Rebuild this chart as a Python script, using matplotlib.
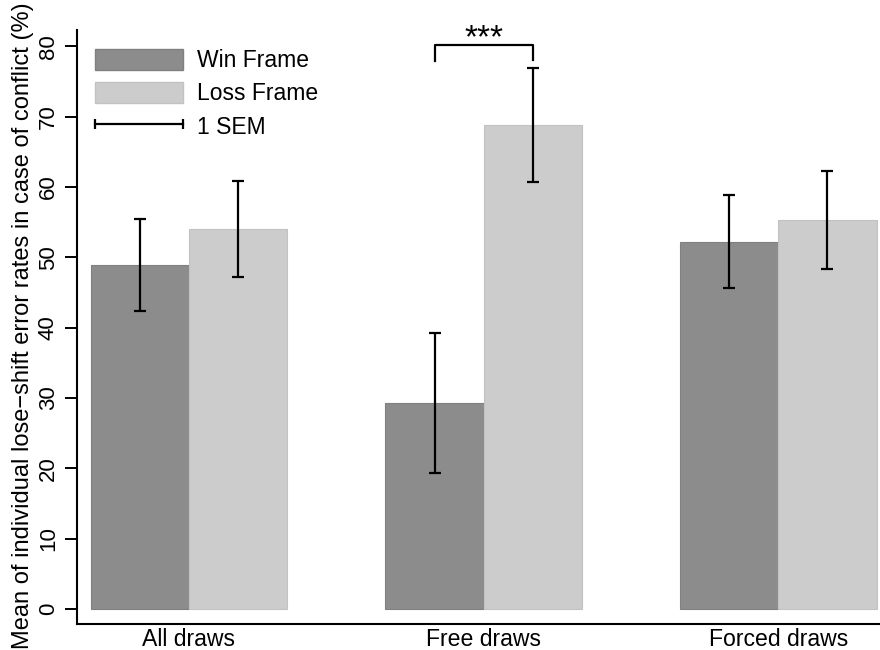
import matplotlib.pyplot as plt
import numpy as np
from matplotlib.patches import Patch
from matplotlib.lines import Line2D
from matplotlib.legend_handler import HandlerLine2D

plt.rcParams['font.family'] = ['Liberation Sans', 'DejaVu Sans']

groups = ['All draws', 'Free draws', 'Forced draws']
win_mean = [48.9, 29.3, 52.2]
win_sem = [6.55, 9.95, 6.6]
loss_mean = [54.0, 68.8, 55.3]
loss_sem = [6.8, 8.15, 7.0]

dark = '#8c8c8c'
light = '#cccccc'

fig = plt.figure(figsize=(8.8, 6.5), dpi=100)
ax = fig.add_axes([77 / 880, 26 / 650, 1 - 77 / 880, (624 - 30) / 650])

x = np.arange(len(groups))
w = 1 / 3
ax.bar(x - w / 2, win_mean, w, color=dark, edgecolor='#808080', linewidth=0.8)
ax.bar(x + w / 2, loss_mean, w, color=light, edgecolor='#c2c2c2', linewidth=0.8)
ax.errorbar(x - w / 2, win_mean, yerr=win_sem, fmt='none', ecolor='black',
            elinewidth=1.6, capsize=4.2, capthick=1.6)
ax.errorbar(x + w / 2, loss_mean, yerr=loss_sem, fmt='none', ecolor='black',
            elinewidth=1.6, capsize=4.2, capthick=1.6)

# significance bracket over free draws
ax.plot([1 - w / 2, 1 - w / 2, 1 + w / 2, 1 + w / 2], [77.9, 80.1, 80.1, 78.0],
        color='black', linewidth=1.6, clip_on=False)
ax.text(1, 78.9, '***', ha='center', va='bottom', fontsize=24)

ax.set_xlim(-0.38, 2.345)
ax.set_ylim(-2.13, 82.3)
ax.set_xticks(x)
ax.set_xticklabels(groups, fontsize=16.6)
ax.set_yticks(range(0, 81, 10))
ax.set_yticklabels([str(v) for v in range(0, 81, 10)], rotation=90, va='center', fontsize=16)
ax.tick_params(axis='x', length=0, pad=3)
ax.tick_params(axis='y', length=9, width=1.4, pad=4)
for s in ['top', 'right']:
    ax.spines[s].set_visible(False)
for s in ['left', 'bottom']:
    ax.spines[s].set_linewidth(1.5)
ax.set_ylabel('Mean of individual lose\u2212shift error rates in case of conflict (%)',
              fontsize=17)
ax.yaxis.set_label_coords(-0.054, 0.503)

sem_handle = Line2D([0, 1], [0, 0], color='black', linewidth=1.6, marker='|',
                    markersize=6.5, markeredgewidth=1.6)
handles = [Patch(facecolor=dark, edgecolor='#808080'),
           Patch(facecolor=light, edgecolor='#c2c2c2'),
           sem_handle]
ax.legend(handles, ['Win Frame', 'Loss Frame', '1 SEM'], loc='upper left',
          bbox_to_anchor=(0.0224, 0.968), frameon=False, fontsize=16.5,
          handlelength=3.85, handleheight=1.03, labelspacing=0.43,
          handletextpad=0.6, numpoints=2, borderaxespad=0, borderpad=0,
          handler_map={sem_handle: HandlerLine2D(marker_pad=0)})

fig.savefig('out.png', dpi=100)
